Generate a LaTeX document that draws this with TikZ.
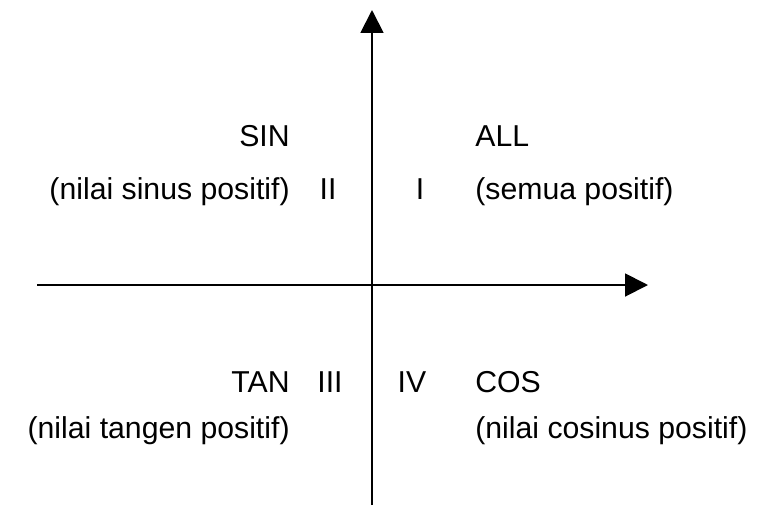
\documentclass[tikz,border=0pt]{standalone}
\usepackage{fontspec}
\setmainfont{Liberation Sans}
\usetikzlibrary{arrows.meta}

\begin{document}
\begin{tikzpicture}[x=0.02cm,y=-0.02cm,
		lbl/.style={inner sep=0pt,font=\fontsize{17.2}{20}\selectfont},
		axis/.style={line width=1.1pt,-{Triangle[length=13pt,width=13pt]}}]
			\useasboundingbox (0,0) rectangle (782,505);
			\coordinate (xstart) at (37,285);
			\coordinate (xend) at (648,285);
			\coordinate (ystart) at (372,505);
			\coordinate (yend) at (372,10);
			\draw[axis] (xstart) -- (xend);
			\draw[axis] (ystart) -- (yend);
			% quadrant II
			\node[lbl,anchor=base east] (sin) at (290,146) {SIN};
			\node[lbl,anchor=base east] (sinpos) at (290,199) {(nilai sinus positif)};
			\node[lbl,anchor=base] (q2) at (328,199) {II};
			% quadrant I
			\node[lbl,anchor=base] (q1) at (420,199) {I};
			\node[lbl,anchor=base west] (all) at (475,146) {ALL};
			\node[lbl,anchor=base west] (allpos) at (475,199) {(semua positif)};
			% quadrant III
			\node[lbl,anchor=base east] (tan) at (290,392) {TAN};
			\node[lbl,anchor=base] (q3) at (330,392) {III};
			\node[lbl,anchor=base east] (tanpos) at (290,438) {(nilai tangen positif)};
			% quadrant IV
			\node[lbl,anchor=base] (q4) at (412,392) {IV};
			\node[lbl,anchor=base west] (cos) at (475,392) {COS};
			\node[lbl,anchor=base west] (cospos) at (475,438) {(nilai cosinus positif)};
		\end{tikzpicture}
\end{document}
